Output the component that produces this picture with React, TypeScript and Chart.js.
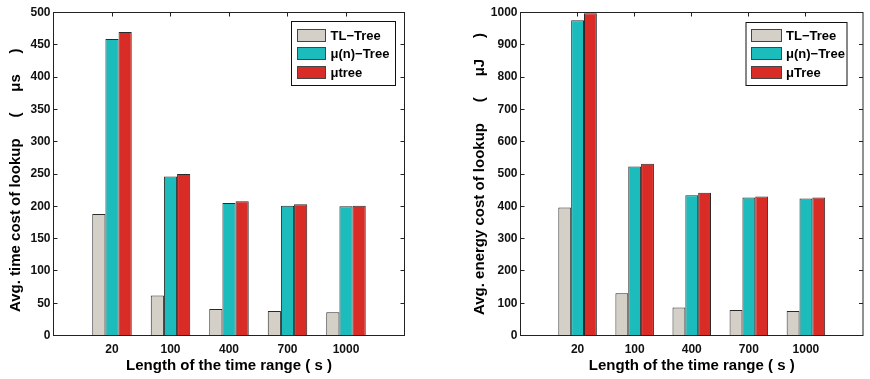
import React, { useEffect, useRef } from 'react';
import { Chart, registerables } from 'chart.js';

Chart.register(...registerables);

// ---------- data ----------
const categories = ['20', '100', '400', '700', '1000'];
const timeSeriesNames = ['TL\u2212Tree', '\u03bc(n)\u2212Tree', '\u03bctree'];
const energySeriesNames = ['TL\u2212Tree', '\u03bc(n)\u2212Tree', '\u03bcTree'];

const timeTL = [188, 62, 41, 38, 36];
const timeMuN = [459, 246, 205, 201, 200];
const timeMu = [470, 250, 208, 203, 201];

const energyTL = [396, 131, 87, 79, 76];
const energyMuN = [976, 523, 434, 427, 424];
const energyMu = [998, 532, 442, 430, 427];

const timeYMax = 500;
const timeYStep = 50;
const energyYMax = 1000;
const energyYStep = 100;

const xTitle = 'Length of the time range ( s )';
const timeYTitle = 'Avg. time cost of lookup     (     \u03bcs     )   ';
const energyYTitle = 'Avg. energy cost of lookup     (     \u03bcJ     )';

const seriesColors = ['#d4d0c8', '#1cbcbc', '#da2c27'];

// ---------- layout ----------
const W = 435;
const H = 379;
const FONT = "'Liberation Sans', Arial, Helvetica, sans-serif";

const matlabAxes = {
  id: 'matlabAxes',
  beforeDatasetsDraw(chart: any) {
    const { ctx, chartArea, scales } = chart;
    const { left, right, top, bottom } = chartArea;
    const x = scales.x;
    const y = scales.y;
    const L = 4;
    ctx.save();
    ctx.strokeStyle = '#222';
    ctx.lineWidth = 1;
    ctx.beginPath();
    x.ticks.forEach((t: any, i: number) => {
      if (!t.label) return;
      const px = Math.floor(x.getPixelForTick(i)) + 0.5;
      ctx.moveTo(px, bottom);
      ctx.lineTo(px, bottom - L);
      ctx.moveTo(px, top);
      ctx.lineTo(px, top + L);
    });
    y.ticks.forEach((_t: any, i: number) => {
      const py = Math.floor(y.getPixelForTick(i)) + 0.5;
      ctx.moveTo(left, py);
      ctx.lineTo(left + L, py);
      ctx.moveTo(right, py);
      ctx.lineTo(right - L, py);
    });
    ctx.stroke();
    ctx.restore();
  },
  afterDatasetsDraw(chart: any) {
    const { ctx, chartArea } = chart;
    const { left, right, top, bottom } = chartArea;
    ctx.save();
    ctx.strokeStyle = '#222';
    ctx.lineWidth = 1;
    ctx.strokeRect(left, top, right - left, bottom - top);
    ctx.restore();
  },
};

const boxLegend = {
  id: 'boxLegend',
  afterDraw(chart: any, _args: any, opts: any) {
    const { ctx, chartArea } = chart;
    const x = chartArea.right - opts.right - opts.width;
    const y = chartArea.top + opts.top;
    ctx.save();
    ctx.fillStyle = '#fff';
    ctx.fillRect(x, y, opts.width, opts.height);
    ctx.strokeStyle = '#111';
    ctx.lineWidth = 1;
    ctx.strokeRect(x, y, opts.width, opts.height);
    ctx.font = `bold 13px ${FONT}`;
    ctx.textBaseline = 'middle';
    ctx.textAlign = 'left';
    chart.data.datasets.forEach((ds: any, i: number) => {
      const sy = Math.round(y + opts.firstRow + i * opts.rowGap);
      const sx = Math.round(x + 5);
      ctx.fillStyle = ds.backgroundColor;
      ctx.fillRect(sx, sy, opts.swatchW, 13);
      ctx.strokeStyle = '#444';
      ctx.strokeRect(sx + 0.5, sy + 0.5, opts.swatchW - 1, 12);
      ctx.fillStyle = '#000';
      ctx.fillText(ds.label, x + opts.textX, sy + 7);
    });
    ctx.restore();
  },
};

type PanelSpec = {
  names: string[];
  series: number[][];
  yMax: number;
  yStep: number;
  yTitle: string;
  yAxisWidth: number;
  yTitlePad: number;
  padRight: number;
  legend: any;
};

function makeConfig(p: PanelSpec): any {
  const labels = ['', ...categories, ''];
  return {
    type: 'bar',
    data: {
      labels,
      datasets: p.series.map((vals, i) => ({
        label: p.names[i],
        data: [null, ...vals, null],
        backgroundColor: seriesColors[i],
        borderColor: '#2a2a2a',
        borderWidth: 1,
        categoryPercentage: 0.675,
        barPercentage: 1.0,
      })),
    },
    options: {
      responsive: false,
      animation: false,
      events: [],
      devicePixelRatio: 1,
      layout: { padding: { left: 0, top: 12.5, right: p.padRight, bottom: 0 } },
      plugins: {
        legend: { display: false },
        tooltip: { enabled: false },
        boxLegend: p.legend,
      },
      scales: {
        x: {
          type: 'category',
          offset: false,
          grid: { display: false, drawTicks: false },
          border: { display: false },
          ticks: {
            autoSkip: false,
            maxRotation: 0,
            minRotation: 0,
            padding: 7,
            color: '#111',
            font: { family: FONT, size: 12, weight: 'bold' },
          },
          title: {
            display: true,
            text: xTitle,
            color: '#000',
            padding: { top: 0, bottom: 4 },
            font: { family: FONT, size: 15, weight: 'bold' },
          },
          afterFit: (s: any) => {
            s.height = H - 335.5;
          },
        },
        y: {
          type: 'linear',
          min: 0,
          max: p.yMax,
          grid: { display: false, drawTicks: false },
          border: { display: false },
          ticks: {
            stepSize: p.yStep,
            padding: 3,
            color: '#111',
            font: { family: FONT, size: 12, weight: 'bold' },
            callback: (v: any) => String(v),
          },
          title: {
            display: true,
            text: p.yTitle,
            color: '#000',
            padding: { top: p.yTitlePad, bottom: 0 },
            font: { family: FONT, size: 15, weight: 'bold' },
          },
          afterFit: (s: any) => {
            s.width = p.yAxisWidth;
          },
        },
      },
    },
    plugins: [matlabAxes, boxLegend],
  };
}

const leftSpec: PanelSpec = {
  names: timeSeriesNames,
  series: [timeTL, timeMuN, timeMu],
  yMax: timeYMax,
  yStep: timeYStep,
  yTitle: timeYTitle,
  yAxisWidth: 53.5,
  yTitlePad: 7,
  padRight: W - 404.5,
  legend: { right: 9, top: 9, width: 104, height: 64, firstRow: 7, rowGap: 18.7, swatchW: 29, textX: 39 },
};

const rightSpec: PanelSpec = {
  names: energySeriesNames,
  series: [energyTL, energyMuN, energyMu],
  yMax: energyYMax,
  yStep: energyYStep,
  yTitle: energyYTitle,
  yAxisWidth: 85.5,
  yTitlePad: 36,
  padRight: 0.5,
  legend: { right: 16, top: 10, width: 101, height: 63, firstRow: 6, rowGap: 18.7, swatchW: 31, textX: 40 },
};

function Panel({ spec, left }: { spec: PanelSpec; left: number }) {
  const ref = useRef<HTMLCanvasElement | null>(null);
  useEffect(() => {
    if (!ref.current) return;
    const chart = new Chart(ref.current, makeConfig(spec));
    return () => chart.destroy();
  }, [spec]);
  return (
    <canvas
      ref={ref}
      width={W}
      height={H}
      style={{ position: 'absolute', left, top: 0, width: W, height: H }}
    />
  );
}

export default function App() {
  return (
    <div style={{ position: 'absolute', left: 0, top: 0, width: 870, height: 379, background: '#fff', overflow: 'hidden' }}>
      <Panel spec={leftSpec} left={0} />
      <Panel spec={rightSpec} left={435} />
    </div>
  );
}
